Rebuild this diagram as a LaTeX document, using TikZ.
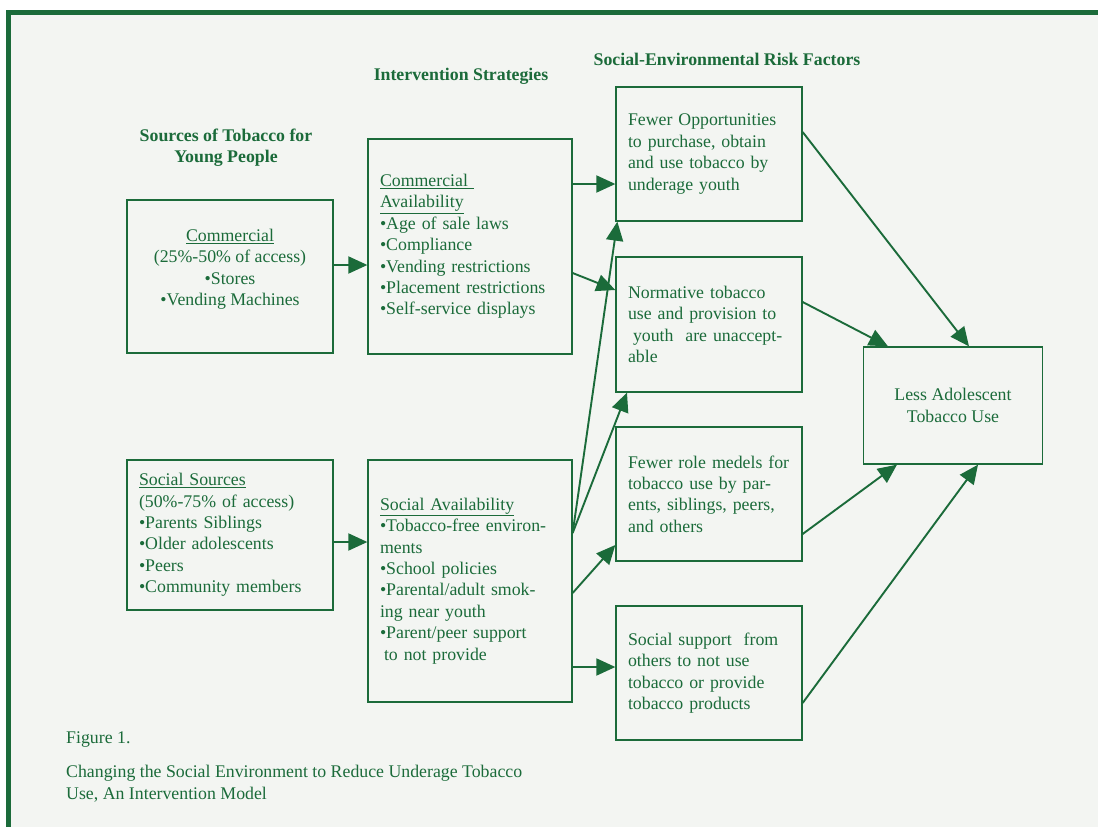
\documentclass[tikz,border=0pt]{standalone}
\usepackage{fontspec}
\setmainfont{Liberation Serif}
\usetikzlibrary{arrows.meta,positioning}
\definecolor{leaf}{HTML}{1B6B3A}
\definecolor{paper}{HTML}{F3F5F2}

\begin{document}
\begin{tikzpicture}[x=1pt,y=-1pt,
	box/.style={draw=leaf, line width=1.3pt, inner xsep=12pt, inner ysep=0pt, text=leaf, font=\fontsize{17.8}{21.4}\selectfont},
	listbox/.style={box, align=left},
	midbox/.style={box, align=center},
	heading/.style={inner sep=0pt, text=leaf, align=center, font=\bfseries\fontsize{17.8}{21.4}\selectfont},
	caption/.style={inner sep=0pt, text=leaf, align=left, font=\fontsize{17.8}{21.4}\selectfont},
	flow/.style={draw=leaf, line width=1.9pt, -{Triangle[length=19pt,width=17pt]}}]

		\useasboundingbox (0,0) rectangle (1098,827);
		\fill[white] (0,0) rectangle (1098,827);
		\fill[paper] (11,15) rectangle (1098,827);
		\fill[leaf] (6,10) rectangle (1098,15);
		\fill[leaf] (6,10) rectangle (11,827);

		\node[heading] (srchead) at (226,147.5) {Sources of Tobacco for\\Young People};
		\node[heading] (strathead) at (461,76) {Intervention Strategies};
		\node[heading] (riskhead) at (727,59) {Social-Environmental Risk Factors};

		\node[midbox, minimum width=206pt, minimum height=153pt] (com) at (230,276.5)
			{\underline{Commercial}\\(25\%-50\% of access)\\•Stores\\•Vending Machines\\[-3pt]\mbox{}};
		\node[listbox, text width=182pt, minimum height=150pt] (soc) at (230,535)
			{\underline{Social Sources}\\(50\%-75\% of access)\\•Parents Siblings\\•Older adolescents\\•Peers\\•Community members};

		\node[listbox, text width=180pt, minimum height=215pt] (comav) at (470,246.5)
			{\underline{Commercial\ }\\\underline{Availability}\\•Age of sale laws\\•Compliance\\•Vending restrictions\\•Placement restrictions\\•Self-service displays};
		\node[listbox, text width=180pt, minimum height=242pt] (socav) at (470,581)
			{\underline{Social Availability}\\•Tobacco-free environ-\\ments\\•School policies\\•Parental/adult smok-\\ing near youth\\•Parent/peer support\\\hspace*{4pt}to not provide};

		\node[listbox, text width=162pt, minimum height=134pt] (opp) at (709,154)
			{Fewer Opportunities\\to purchase, obtain\\and use tobacco by\\underage youth};
		\node[listbox, text width=162pt, minimum height=135pt] (norm) at (709,324.5)
			{Normative tobacco\\use and provision to\\\hspace*{5pt}youth\ \ are unaccept-\\able};
		\node[listbox, text width=162pt, minimum height=134pt] (role) at (709,494)
			{Fewer role medels for\\tobacco use by par-\\ents, siblings, peers,\\and others};
		\node[listbox, text width=162pt, minimum height=134pt] (sup) at (709,673)
			{Social support\ \ from\\others to not use\\tobacco or provide\\tobacco products};

		\node[midbox, minimum width=179pt, minimum height=117pt] (less) at (953,405.5)
			{Less Adolescent\\Tobacco Use};

		\draw[flow] (com.east |- 0,265) -- (comav.west |- 0,265);
		\draw[flow] (soc.east |- 0,542) -- (socav.west |- 0,542);

		\draw[flow] (comav.east |- 0,184) -- (opp.west |- 0,184);
		\draw[flow] (comav.east |- 0,273) -- (norm.west |- 0,290);
		\draw[flow] (socav.east |- 0,533) -- ([xshift=2pt]opp.south west);
		\draw[flow] (socav.east |- 0,533) -- (norm.south west -| 627,0);
		\draw[flow] (socav.east |- 0,593) -- (role.west |- 0,545);
		\draw[flow] (socav.east |- 0,667) -- (sup.west |- 0,667);

		\draw[flow] (opp.east |- 0,132) -- (less.north -| 969,0);
		\draw[flow] (norm.east |- 0,302) -- (less.north -| 888,0);
		\draw[flow] (role.east |- 0,534) -- (less.south -| 897,0);
		\draw[flow] (sup.east |- 0,703) -- (less.south -| 978,0);

		\node[caption, anchor=west] (fig) at (66,740) {Figure 1.};
		\node[caption, anchor=west] (figtext) at (66,783.5)
			{Changing the Social Environment to Reduce Underage Tobacco\\Use, An Intervention Model};

	\end{tikzpicture}
\end{document}
